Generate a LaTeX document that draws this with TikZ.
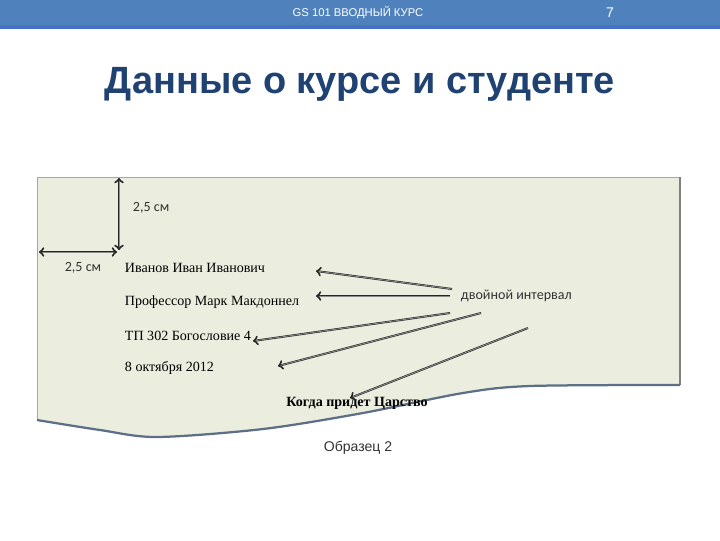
\documentclass[tikz,border=0pt]{standalone}
\usepackage{fontspec}
\setmainfont{Liberation Serif}
\setsansfont{Liberation Sans}
\newfontfamily\calfont{Carlito}
\definecolor{headblue}{HTML}{4F81BD}
\definecolor{headdark}{HTML}{4472C4}
\definecolor{titleblue}{HTML}{1F4272}
\definecolor{paper}{HTML}{EBEEDE}
\definecolor{edgeblue}{HTML}{5C6F86}
\begin{document}
\begin{tikzpicture}[x=0.025cm, y=-0.025cm]
    % Define styles for shapes
    \tikzstyle{line} = [font=\fontsize{10}{12}\selectfont, anchor=west]
    \tikzstyle{note} = [font=\calfont\fontsize{10}{12}\selectfont, text=black!80]
    \tikzstyle{arrow} = [->, draw=black!85, double=black!45, double distance=0.6pt]

    \useasboundingbox (0,0) rectangle (720,540);

    % Header bar and title
    \fill[headblue] (0,0) rectangle (720,25);
    \fill[headdark] (0,25) rectangle (720,29);
    \node[text=white, font=\sffamily\fontsize{8}{10}\selectfont] (course) at (358,13) {GS 101 ВВОДНЫЙ КУРС};
    \node[text=white, font=\sffamily\fontsize{10}{12}\selectfont] (page) at (610,13) {7};
    \node[text=titleblue, font=\sffamily\bfseries\fontsize{27}{32}\selectfont] (title) at (360,84) {Данные о курсе и студенте};

    % Draw the sheet of paper
    \fill[paper] (37,177) -- (680,177) -- plot[smooth] coordinates {(680,385) (530,386) (463,393) (363,413) (263,429) (157,437) (100,430) (37,420)} -- cycle;
    \draw[black!35] (37,420) -- (37,177) -- (680,177);
    \draw[black!50, line width=0.8pt] (680,177) -- (680,385);
    \draw[edgeblue, line width=1.6pt] plot[smooth] coordinates {(680,385) (530,386) (463,393) (363,413) (263,429) (157,437) (100,430) (37,420)};

    % Margins
    \coordinate (top) at (119,178);
    \coordinate (corner) at (119,250);
    \coordinate (left) at (39,252);
    \coordinate (inner) at (117,252);
    \draw[arrow, <->] (top) -- (corner);
    \draw[arrow, <->] (left) -- (inner);
    \node[note, anchor=west] (vmargin) at (128,208) {2,5 см};
    \node[note] (hmargin) at (83,268) {2,5 см};

    % Draw the lines of the sample
    \node[line] (name) at (120,268) {Иванов Иван Иванович};
    \node[line] (teacher) at (120,302) {Профессор Марк Макдоннел};
    \node[line] (subject) at (120,336) {ТП 302 Богословие 4};
    \node[line] (date) at (120,368) {8 октября 2012};
    \node[font=\fontsize{10}{12}\selectfont\bfseries] (heading) at (357,403) {Когда придет Царство};
    \node[note, anchor=west] (interval) at (456,296) {двойной интервал};
    \node[font=\sffamily\fontsize{10}{12}\selectfont, text=black!80] (caption) at (358,448) {Образец 2};

    % Draw the arrows from the label
    \coordinate (s1) at (452,289);
    \coordinate (s2) at (450,296);
    \coordinate (s3) at (450,313);
    \coordinate (s4) at (481,313);
    \coordinate (s5) at (528,328);
    \coordinate (e1) at (316,271);
    \coordinate (e2) at (316,296);
    \coordinate (e3) at (253,341);
    \coordinate (e4) at (278,366);
    \coordinate (e5) at (350,398);
    \draw[arrow] (s1) -- (e1);
    \draw[arrow] (s2) -- (e2);
    \draw[arrow] (s3) -- (e3);
    \draw[arrow] (s4) -- (e4);
    \draw[arrow] (s5) -- (e5);

\end{tikzpicture}
\end{document}
